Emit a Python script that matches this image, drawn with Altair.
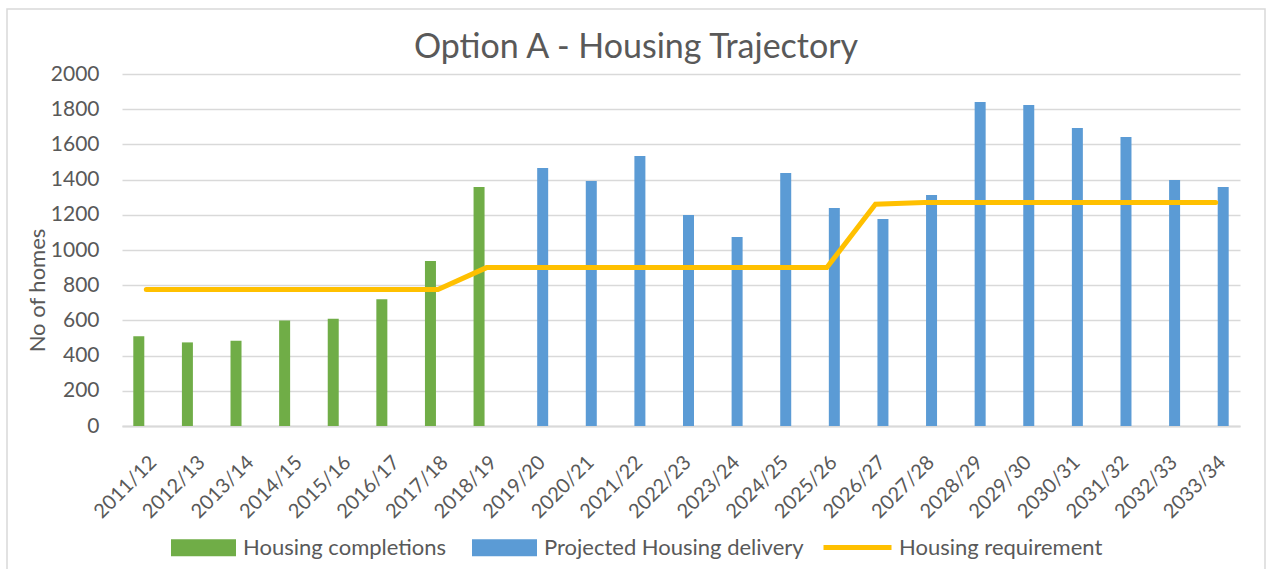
import altair as alt
import pandas as pd

years = ["2011/12", "2012/13", "2013/14", "2014/15", "2015/16", "2016/17", "2017/18",
         "2018/19", "2019/20", "2020/21", "2021/22", "2022/23", "2023/24", "2024/25",
         "2025/26", "2026/27", "2027/28", "2028/29", "2029/30", "2030/31", "2031/32",
         "2032/33", "2033/34"]
completions = [510, 475, 485, 600, 610, 720, 937, 1358]
projected = [1466, 1392, 1534, 1199, 1074, 1437, 1239, 1176, 1312, 1841, 1824,
             1693, 1642, 1398, 1358]
requirement = [776, 776, 776, 776, 776, 776, 776, 900, 900, 900, 900, 900, 900, 900,
               900, 1260, 1270, 1270, 1270, 1270, 1270, 1270, 1270]
y_ticks = [0, 200, 400, 600, 800, 1000, 1200, 1400, 1600, 1800, 2000]
bar_series = ["Housing completions", "Projected Housing delivery"]
line_series = ["Housing requirement"]
bar_colors = ["#70AD47", "#5B9BD5"]
line_color = "#FFC000"
TXT = "#595959"
GRID = "#D9D9D9"

rows = []
for i, yr in enumerate(years):
    if i < len(completions):
        rows.append({"year": yr, "series": bar_series[0], "homes": completions[i]})
    else:
        rows.append({"year": yr, "series": bar_series[1], "homes": projected[i - len(completions)]})
bars_df = pd.DataFrame(rows)
line_df = pd.DataFrame({"year": years, "series": line_series[0], "homes": requirement})

x_enc = alt.X("year:N", sort=years,
              scale=alt.Scale(paddingInner=0.465, paddingOuter=0.2325),
              axis=alt.Axis(title=None, labelAngle=-45, labelFontSize=20, labelColor=TXT,
                            domainColor=GRID, domainWidth=2, ticks=False, tickSize=0,
                            labelPadding=26, labelOffset=0, grid=False))
y_enc = alt.Y("homes:Q", scale=alt.Scale(domain=[0, 2000], nice=False),
              axis=alt.Axis(title="No of homes", values=y_ticks, format="d", labelFontSize=21,
                            labelColor=TXT, domain=False, ticks=False, tickSize=0,
                            labelPadding=23, grid=True, gridColor=GRID, gridWidth=1.5,
                            titleFontSize=22, titleColor=TXT, titleFontWeight="normal",
                            titleX=-85, titleY=216, titleBaseline="middle"))

frame = alt.Chart(alt.Data(values=[{"f": 1}])).mark_rect(
    fill=None, stroke=GRID, strokeWidth=1.5
).encode(x=alt.value(-115), x2=alt.value(1143), y=alt.value(-65), y2=alt.value(505))

bars = alt.Chart(bars_df).mark_bar().encode(
    x=x_enc,
    xOffset=alt.XOffset("series:N", scale=alt.Scale(domain=bar_series, paddingInner=0.267, paddingOuter=0)),
    y=y_enc,
    fill=alt.Fill("series:N", scale=alt.Scale(domain=bar_series, range=bar_colors),
                  legend=alt.Legend(title=None, orient="none", legendX=49, legendY=441,
                                    direction="horizontal",
                                    symbolType="M-1,-0.26H1V0.26H-1Z", symbolSize=4225,
                                    symbolStrokeWidth=0, labelFontSize=22, labelColor=TXT,
                                    labelOffset=7, columnPadding=25, padding=0,
                                    labelLimit=400)),
)

line = alt.Chart(line_df).mark_line(strokeWidth=5, strokeCap="round").encode(
    x=x_enc,
    y=y_enc,
    stroke=alt.Stroke("series:N", scale=alt.Scale(domain=line_series, range=[line_color]),
                      legend=alt.Legend(title=None, orient="none", legendX=699, legendY=437,
                                        symbolType="stroke", symbolSize=4624,
                                        symbolStrokeWidth=5, labelFontSize=22,
                                        labelColor=TXT, labelOffset=5, padding=0,
                                        labelLimit=400)),
)

chart = alt.layer(frame, bars, line).resolve_scale(fill="independent", stroke="independent").properties(
    width=1118, height=352,
    autosize=alt.AutoSizeParams(type="none"),
    padding={"left": 122, "top": 74, "right": 29, "bottom": 143},
    title=alt.TitleParams("Option A - Housing Trajectory", fontSize=34, color=TXT,
                          font="Lato", fontWeight="normal", anchor="middle", offset=12,
                          baseline="alphabetic", dy=96, dx=-45),
).configure(font="Lato").configure_view(stroke=None)

chart.save("out.html", embed_options={"renderer": "svg", "actions": False})
